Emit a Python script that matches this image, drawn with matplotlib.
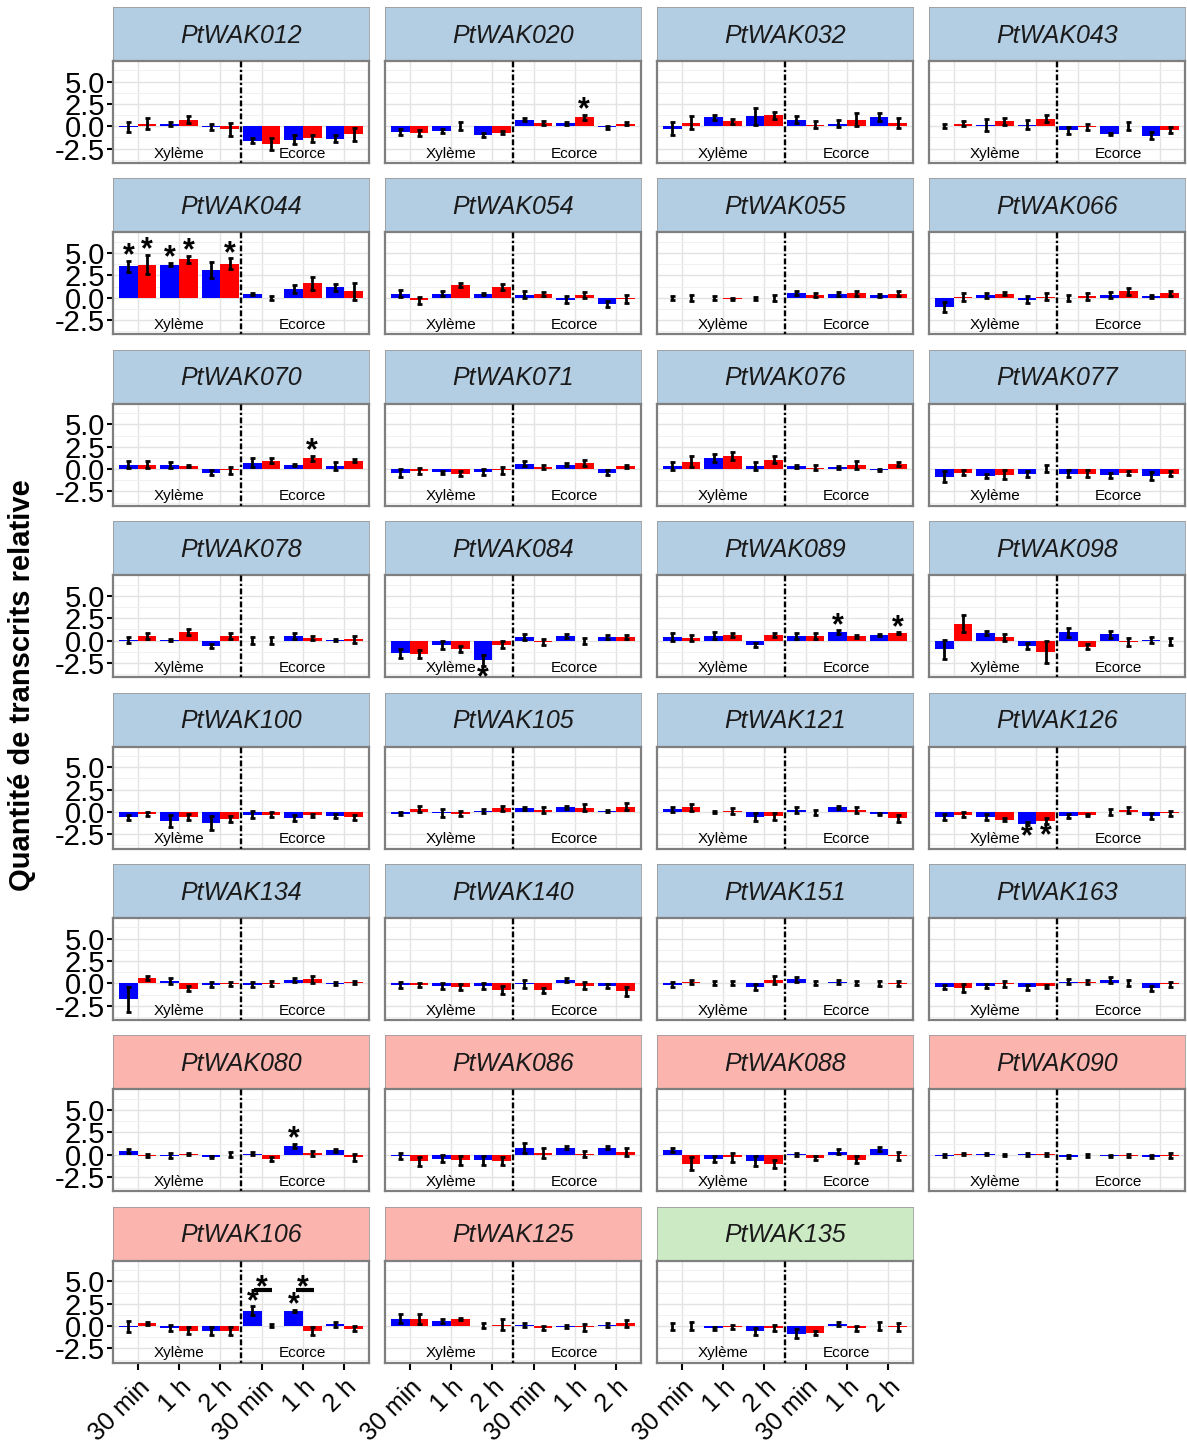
import numpy as np
import matplotlib.pyplot as plt

plt.rcParams['font.family'] = ['Liberation Sans', 'DejaVu Sans']
plt.rcParams['axes.unicode_minus'] = False

# ---- Data ---------------------------------------------------------------

genes = [
    'PtWAK012', 'PtWAK020', 'PtWAK032', 'PtWAK043',
    'PtWAK044', 'PtWAK054', 'PtWAK055', 'PtWAK066',
    'PtWAK070', 'PtWAK071', 'PtWAK076', 'PtWAK077',
    'PtWAK078', 'PtWAK084', 'PtWAK089', 'PtWAK098',
    'PtWAK100', 'PtWAK105', 'PtWAK121', 'PtWAK126',
    'PtWAK134', 'PtWAK140', 'PtWAK151', 'PtWAK163',
    'PtWAK080', 'PtWAK086', 'PtWAK088', 'PtWAK090',
    'PtWAK106', 'PtWAK125', 'PtWAK135',
]
strip_fill = ['#B3CDE3'] * 24 + ['#FBB4AE'] * 6 + ['#CCEBC5']

time_labels = ['30 min', '1 h', '2 h', '30 min', '1 h', '2 h']
tissues = ['Xylème', 'Ecorce']
bar_colors = ['#0000FF', '#FF0000']

# order per gene: Xyl 30min (blue, red), 1h, 2h, Ecorce 30min, 1h, 2h
means = [
    [-0.1, 0.3, 0.25, 0.75, -0.1, -0.35, -1.6, -2.0, -1.5, -1.35, -1.4, -0.9],
    [-0.65, -0.75, -0.55, 0.05, -1.0, -0.7, 0.75, 0.35, 0.35, 1.0, -0.1, 0.3],
    [-0.25, 0.4, 1.0, 0.55, 1.1, 1.25, 0.75, 0.2, 0.3, 0.75, 1.0, 0.4],
    [0.05, 0.3, 0.15, 0.55, 0.2, 0.85, -0.45, -0.1, -0.85, 0.0, -1.05, -0.45],
    [3.5, 3.7, 3.7, 4.3, 3.1, 3.8, 0.4, 0.0, 1.0, 1.6, 1.15, 0.7],
    [0.45, -0.3, 0.45, 1.45, 0.4, 1.2, 0.35, 0.4, -0.2, 0.3, -0.7, -0.1],
    [-0.05, -0.05, -0.05, -0.15, -0.05, -0.05, 0.55, 0.3, 0.4, 0.5, 0.25, 0.45],
    [-1.0, 0.1, 0.25, 0.45, -0.2, 0.1, -0.05, 0.15, 0.3, 0.7, 0.15, 0.5],
    [0.5, 0.5, 0.5, 0.35, -0.4, -0.15, 0.7, 0.95, 0.45, 1.2, 0.35, 0.95],
    [-0.45, -0.25, -0.35, -0.5, -0.35, -0.15, 0.6, 0.25, 0.5, 0.7, -0.4, 0.3],
    [0.35, 0.85, 1.2, 1.5, 0.3, 1.05, 0.3, 0.15, 0.2, 0.45, -0.1, 0.55],
    [-0.85, -0.4, -0.75, -0.65, -0.55, 0.05, -0.5, -0.5, -0.7, -0.45, -0.75, -0.5],
    [0.05, 0.5, 0.05, 0.95, -0.6, 0.5, 0.0, 0.0, 0.5, 0.3, 0.05, 0.15],
    [-1.4, -1.5, -0.5, -0.95, -2.2, -0.45, 0.4, -0.2, 0.5, -0.05, 0.4, 0.4],
    [0.4, 0.3, 0.55, 0.6, -0.5, 0.6, 0.5, 0.5, 0.95, 0.45, 0.6, 0.8],
    [-1.0, 1.85, 0.85, 0.35, -0.6, -1.3, 0.9, -0.7, 0.7, -0.2, 0.05, -0.1],
    [-0.6, -0.25, -1.05, -0.6, -1.25, -0.8, -0.3, -0.3, -0.65, -0.4, -0.45, -0.6],
    [-0.2, 0.35, -0.1, -0.2, 0.1, 0.4, 0.4, 0.2, 0.5, 0.45, 0.1, 0.6],
    [0.3, 0.5, 0.0, 0.1, -0.55, -0.5, 0.2, -0.05, 0.5, 0.2, -0.25, -0.7],
    [-0.6, -0.3, -0.55, -0.85, -1.3, -1.0, -0.45, -0.35, -0.05, 0.2, -0.45, -0.15],
    [-1.8, 0.6, 0.25, -0.6, -0.15, -0.05, -0.15, -0.05, 0.35, 0.45, -0.05, 0.1],
    [-0.15, -0.2, -0.3, -0.45, -0.3, -0.75, -0.1, -0.8, 0.35, -0.25, -0.3, -0.9],
    [-0.15, 0.15, 0.05, 0.05, -0.45, 0.35, 0.45, 0.05, 0.15, 0.05, 0.0, -0.05],
    [-0.4, -0.5, -0.3, -0.1, -0.45, -0.35, 0.2, 0.15, 0.4, 0.05, -0.55, -0.1],
    [0.4, -0.1, -0.1, 0.05, -0.25, 0.0, 0.1, -0.5, 1.0, 0.15, 0.5, -0.3],
    [-0.15, -0.75, -0.45, -0.6, -0.6, -0.65, 0.75, 0.2, 0.8, 0.05, 0.8, 0.35],
    [0.55, -1.0, -0.5, -0.3, -0.7, -1.0, 0.05, -0.35, 0.35, -0.55, 0.65, -0.15],
    [-0.1, 0.1, 0.05, 0.0, 0.05, 0.05, -0.2, -0.05, -0.15, -0.1, -0.2, -0.1],
    [-0.05, 0.3, -0.2, -0.5, -0.55, -0.55, 1.7, 0.05, 1.7, -0.55, 0.2, -0.3],
    [0.8, 0.8, 0.55, 0.8, 0.05, 0.15, 0.1, -0.2, -0.05, -0.15, 0.1, 0.3],
    [0.0, 0.05, -0.25, -0.1, -0.6, -0.2, -0.85, -0.75, 0.25, -0.25, 0.0, -0.1],
]
errs = [
    [0.55, 0.65, 0.2, 0.4, 0.35, 0.7, 0.3, 0.65, 0.5, 0.35, 0.4, 0.7],
    [0.35, 0.3, 0.2, 0.45, 0.25, 0.2, 0.2, 0.2, 0.15, 0.3, 0.15, 0.2],
    [0.7, 0.75, 0.3, 0.3, 0.95, 0.4, 0.35, 0.4, 0.35, 0.7, 0.45, 0.55],
    [0.2, 0.3, 0.7, 0.35, 0.45, 0.4, 0.4, 0.35, 0.15, 0.45, 0.4, 0.35],
    [0.65, 1.1, 0.2, 0.4, 0.9, 0.6, 0.15, 0.2, 0.45, 0.7, 0.35, 0.95],
    [0.4, 0.35, 0.25, 0.2, 0.15, 0.3, 0.35, 0.25, 0.4, 0.3, 0.3, 0.45],
    [0.25, 0.35, 0.25, 0.15, 0.15, 0.35, 0.2, 0.2, 0.2, 0.3, 0.2, 0.3],
    [0.55, 0.45, 0.25, 0.2, 0.35, 0.4, 0.35, 0.4, 0.35, 0.4, 0.2, 0.3],
    [0.4, 0.4, 0.35, 0.1, 0.3, 0.4, 0.5, 0.25, 0.15, 0.3, 0.45, 0.15],
    [0.45, 0.35, 0.15, 0.25, 0.35, 0.4, 0.3, 0.25, 0.15, 0.3, 0.3, 0.15],
    [0.45, 0.65, 0.45, 0.45, 0.45, 0.4, 0.15, 0.3, 0.15, 0.45, 0.15, 0.25],
    [0.6, 0.3, 0.25, 0.5, 0.3, 0.4, 0.4, 0.35, 0.3, 0.25, 0.45, 0.3],
    [0.35, 0.35, 0.15, 0.35, 0.2, 0.35, 0.35, 0.35, 0.3, 0.2, 0.15, 0.4],
    [0.5, 0.45, 0.4, 0.3, 0.6, 0.4, 0.3, 0.35, 0.25, 0.35, 0.2, 0.2],
    [0.45, 0.35, 0.35, 0.2, 0.2, 0.2, 0.3, 0.35, 0.2, 0.2, 0.1, 0.1],
    [1.05, 0.95, 0.25, 0.35, 0.3, 1.2, 0.5, 0.3, 0.4, 0.45, 0.35, 0.35],
    [0.25, 0.25, 0.65, 0.35, 0.8, 0.35, 0.35, 0.3, 0.35, 0.2, 0.25, 0.3],
    [0.15, 0.35, 0.45, 0.25, 0.2, 0.25, 0.2, 0.3, 0.2, 0.4, 0.1, 0.35],
    [0.3, 0.35, 0.1, 0.35, 0.45, 0.4, 0.35, 0.3, 0.2, 0.35, 0.15, 0.4],
    [0.35, 0.25, 0.3, 0.15, 0.15, 0.35, 0.2, 0.15, 0.35, 0.35, 0.3, 0.3],
    [1.4, 0.2, 0.3, 0.3, 0.3, 0.2, 0.3, 0.3, 0.25, 0.4, 0.15, 0.2],
    [0.35, 0.2, 0.3, 0.35, 0.3, 0.45, 0.45, 0.3, 0.2, 0.4, 0.2, 0.5],
    [0.3, 0.2, 0.25, 0.25, 0.35, 0.45, 0.25, 0.2, 0.2, 0.2, 0.3, 0.3],
    [0.2, 0.45, 0.2, 0.35, 0.3, 0.2, 0.25, 0.2, 0.35, 0.3, 0.3, 0.3],
    [0.2, 0.2, 0.3, 0.1, 0.15, 0.3, 0.15, 0.2, 0.2, 0.3, 0.15, 0.35],
    [0.3, 0.5, 0.4, 0.5, 0.5, 0.45, 0.55, 0.6, 0.2, 0.35, 0.15, 0.45],
    [0.25, 0.7, 0.35, 0.5, 0.55, 0.45, 0.15, 0.2, 0.25, 0.4, 0.2, 0.45],
    [0.2, 0.1, 0.1, 0.1, 0.15, 0.15, 0.15, 0.15, 0.15, 0.2, 0.2, 0.25],
    [0.65, 0.15, 0.35, 0.4, 0.4, 0.45, 0.5, 0.15, 0.15, 0.45, 0.25, 0.3],
    [0.5, 0.6, 0.2, 0.15, 0.3, 0.6, 0.25, 0.2, 0.2, 0.4, 0.2, 0.35],
    [0.4, 0.45, 0.15, 0.2, 0.35, 0.35, 0.5, 0.2, 0.25, 0.25, 0.45, 0.5],
]
# significant bars (index into the 12 values of a gene)
stars = {
    'PtWAK020': [9],
    'PtWAK044': [0, 1, 2, 3, 5],
    'PtWAK070': [9],
    'PtWAK084': [4],
    'PtWAK089': [8, 11],
    'PtWAK126': [4, 5],
    'PtWAK080': [8],
    'PtWAK106': [6, 8],
}
# PtWAK106: extra "*" over a bar at Ecorce 30 min and 1 h
bracket_gene = 'PtWAK106'
bracket_cats = [3, 4]
bracket_y = 4.03
bracket_star_y = 5.25

# ---- Layout (pixels) ---------------------------------------------------

W, H = 1187, 1440
col_left = [113, 385, 657, 929]
panel_w = 256
row_pitch = 171.4
top0 = 7
strip_h = 54
plot_h = 102
ncol = 4
last_row = (len(genes) - 1) // ncol

fig = plt.figure(figsize=(W / 100, H / 100), dpi=100)

xs = np.arange(1, 7)
dodge = 0.225
star_fs = 22


def put_star(ax, x, y):
    # centre the asterisk glyph on y
    ax.annotate('*', xy=(x, y), xytext=(0, -0.56 * star_fs),
                textcoords='offset points', ha='center', va='baseline',
                fontsize=star_fs, fontweight='bold', color='black',
                zorder=5, annotation_clip=False)


for i, gene in enumerate(genes):
    r, c = divmod(i, ncol)
    left = col_left[c] / W
    s_top = top0 + r * row_pitch
    ax_s = fig.add_axes([left, 1 - (s_top + strip_h) / H, panel_w / W, strip_h / H])
    ax_s.set_facecolor(strip_fill[i])
    ax_s.set_xticks([])
    ax_s.set_yticks([])
    for sp in ax_s.spines.values():
        sp.set_color('#9A9A9A')
        sp.set_linewidth(0.6)
    ax_s.text(0.5, 0.47, gene, transform=ax_s.transAxes, ha='center', va='center',
              fontsize=18, style='italic', color='#1A1A1A')

    ax = fig.add_axes([left, 1 - (s_top + strip_h + plot_h) / H, panel_w / W, plot_h / H])
    m = np.array(means[i])
    e = np.array(errs[i])

    for k, col in enumerate(bar_colors):
        off = -dodge if k == 0 else dodge
        ax.bar(xs + off, m[k::2], width=0.45, color=col, zorder=2)
        ax.errorbar(xs + off, m[k::2], yerr=e[k::2], fmt='none', ecolor='black',
                    elinewidth=2.0, capsize=1.8, capthick=2.0, zorder=3)

    for j in stars.get(gene, []):
        x = xs[j // 2] + (-dodge if j % 2 == 0 else dodge)
        if m[j] >= 0:
            put_star(ax, x, m[j] + e[j] + 1.5)
        else:
            put_star(ax, x, m[j] - e[j] - 0.35)

    if gene == bracket_gene:
        for cat in bracket_cats:
            ax.plot([xs[cat] - 0.18, xs[cat] + 0.26], [bracket_y, bracket_y],
                    color='black', lw=3, solid_capstyle='butt', zorder=5)
            put_star(ax, xs[cat], bracket_star_y)

    ax.axvline(3.5, color='black', lw=1.7, ls=(0, (1, 1.0, 2.5, 1.0)), zorder=4)
    ax.text(2, -3.05, tissues[0], ha='center', va='center', fontsize=11, zorder=4)
    ax.text(5, -3.05, tissues[1], ha='center', va='center', fontsize=11, zorder=4)

    ax.set_xlim(0.4, 6.6)
    ax.set_ylim(-4.1, 7.3)
    ax.set_yticks([-2.5, 0, 2.5, 5.0])
    ax.set_yticks([-3.75, -1.25, 1.25, 3.75, 6.25], minor=True)
    ax.set_xticks(xs)
    ax.grid(True, which='major', color='#E3E3E3', lw=1.0, zorder=0)
    ax.grid(True, which='minor', axis='y', color='#F0F0F0', lw=0.7, zorder=0)
    ax.set_axisbelow(True)
    for sp in ax.spines.values():
        sp.set_color('#7F7F7F')
        sp.set_linewidth(1.6)
    ax.tick_params(which='minor', length=0)

    if c == 0:
        ax.set_yticklabels(['-2.5', '0.0', '2.5', '5.0'])
        ax.tick_params(axis='y', length=4, width=1.5, color='black',
                       labelsize=21, pad=2)
    else:
        ax.tick_params(axis='y', left=False, labelleft=False)

    if r == last_row:
        ax.set_xticklabels(time_labels, rotation=45, ha='right', va='top',
                           rotation_mode='anchor', fontsize=18)
        ax.tick_params(axis='x', length=5, width=1.5, color='black', pad=4)
    else:
        ax.tick_params(axis='x', bottom=False, labelbottom=False)

fig.text(22 / W, 1 - 685 / H, 'Quantité de transcrits relative', rotation=90,
         ha='center', va='center', fontsize=21, fontweight='bold')

fig.savefig('out.png', dpi=100)
